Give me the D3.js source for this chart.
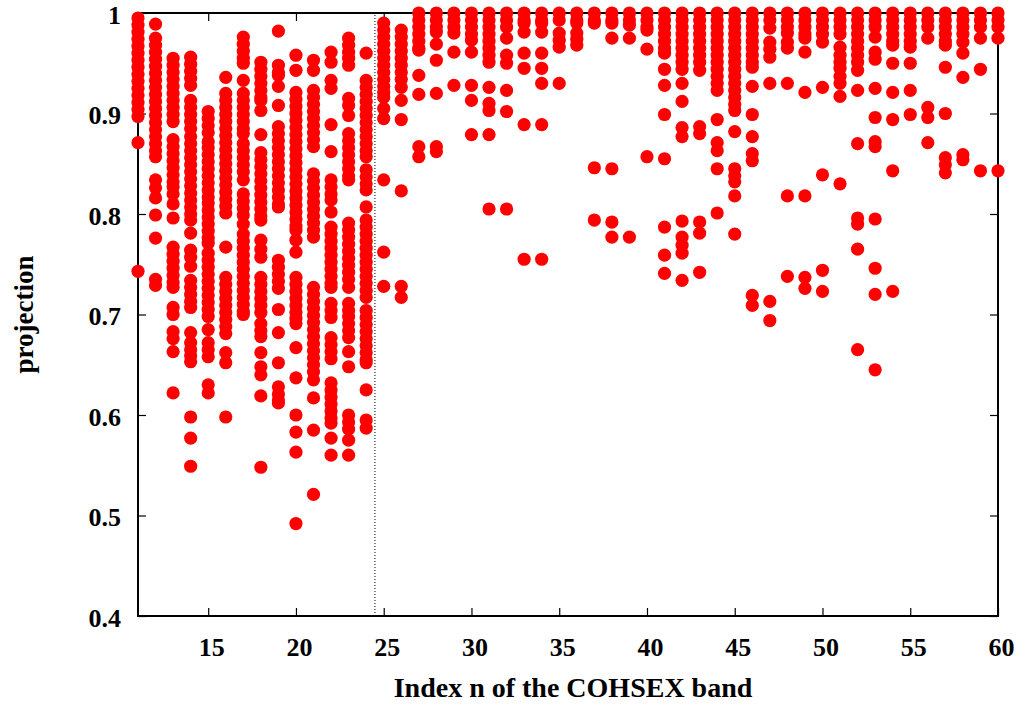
<!DOCTYPE html>
<html>
<head>
<meta charset="utf-8">
<script src="https://cdn.jsdelivr.net/npm/d3@7"></script>
<style>
  html, body { margin: 0; padding: 0; background: #fff; }
  svg { display: block; }
  text { font-family: "Liberation Serif", "Times New Roman", serif; font-weight: bold; fill: #000; }
</style>
</head>
<body>
<svg id="chart" width="1025" height="706"></svg>
<script>
// ---- data ----
const bands = [11,12,13,14,15,16,17,18,19,20,21,22,23,24,25,26,27,28,29,30,31,32,33,34,35,36,37,38,39,40,41,42,43,44,45,46,47,48,49,50,51,52,53,54,55,56,57,58,59,60];

const projections = [
  /*11*/ [0.995,0.988,0.981,0.974,0.967,0.960,0.953,0.946,0.939,0.932,0.925,0.918,0.911,0.904,0.897,0.871,0.743],
  /*12*/ [0.989,0.975,0.968,0.961,0.954,0.947,0.940,0.933,0.926,0.919,0.912,0.905,0.898,0.891,0.884,0.877,0.870,0.863,0.857,0.834,0.826,0.816,0.799,0.776,0.735,0.729],
  /*13*/ [0.955,0.948,0.941,0.934,0.927,0.920,0.913,0.906,0.899,0.892,0.874,0.867,0.860,0.853,0.846,0.839,0.832,0.827,0.820,0.810,0.796,0.767,0.760,0.753,0.746,0.739,0.732,0.727,0.707,0.700,0.683,0.676,0.663,0.622],
  /*14*/ [0.956,0.949,0.942,0.935,0.928,0.913,0.906,0.899,0.892,0.885,0.877,0.870,0.863,0.856,0.849,0.842,0.835,0.828,0.821,0.814,0.807,0.800,0.794,0.781,0.764,0.757,0.748,0.734,0.727,0.720,0.713,0.707,0.682,0.672,0.665,0.659,0.653,0.598,0.577,0.549],
  /*15*/ [0.902,0.895,0.888,0.881,0.872,0.866,0.859,0.852,0.845,0.838,0.831,0.824,0.817,0.811,0.804,0.797,0.790,0.783,0.776,0.771,0.761,0.754,0.747,0.740,0.733,0.726,0.719,0.712,0.705,0.698,0.685,0.672,0.665,0.658,0.630,0.622],
  /*16*/ [0.936,0.920,0.913,0.906,0.899,0.892,0.885,0.878,0.871,0.864,0.857,0.850,0.843,0.836,0.829,0.822,0.815,0.808,0.801,0.767,0.737,0.730,0.723,0.716,0.709,0.702,0.695,0.688,0.681,0.662,0.652,0.598],
  /*17*/ [0.976,0.969,0.962,0.955,0.950,0.933,0.920,0.913,0.906,0.899,0.892,0.885,0.880,0.870,0.863,0.856,0.849,0.842,0.834,0.820,0.813,0.806,0.799,0.790,0.780,0.773,0.766,0.759,0.752,0.745,0.738,0.731,0.724,0.717,0.710,0.703,0.700],
  /*18*/ [0.951,0.944,0.937,0.930,0.923,0.916,0.913,0.903,0.879,0.861,0.854,0.847,0.840,0.833,0.826,0.819,0.812,0.805,0.798,0.794,0.774,0.765,0.757,0.737,0.730,0.723,0.716,0.709,0.702,0.691,0.684,0.678,0.662,0.648,0.640,0.619,0.548],
  /*19*/ [0.982,0.948,0.941,0.938,0.927,0.908,0.887,0.880,0.873,0.866,0.859,0.852,0.845,0.838,0.831,0.824,0.817,0.810,0.807,0.754,0.747,0.740,0.733,0.726,0.705,0.682,0.652,0.628,0.621,0.615,0.612],
  /*20*/ [0.958,0.943,0.921,0.914,0.907,0.900,0.893,0.886,0.879,0.872,0.865,0.858,0.851,0.844,0.837,0.830,0.823,0.816,0.809,0.802,0.795,0.788,0.784,0.774,0.762,0.737,0.730,0.723,0.716,0.709,0.702,0.696,0.691,0.667,0.637,0.600,0.583,0.563,0.492],
  /*21*/ [0.953,0.943,0.923,0.916,0.909,0.902,0.895,0.888,0.881,0.874,0.867,0.840,0.833,0.826,0.819,0.812,0.805,0.798,0.791,0.784,0.777,0.727,0.720,0.713,0.706,0.699,0.692,0.685,0.678,0.671,0.664,0.657,0.650,0.643,0.635,0.617,0.585,0.521],
  /*22*/ [0.961,0.951,0.933,0.925,0.889,0.862,0.834,0.827,0.820,0.814,0.802,0.787,0.780,0.773,0.766,0.759,0.752,0.745,0.738,0.731,0.727,0.711,0.704,0.697,0.677,0.670,0.663,0.656,0.632,0.625,0.618,0.611,0.604,0.597,0.592,0.577,0.560],
  /*23*/ [0.975,0.968,0.961,0.955,0.948,0.915,0.908,0.898,0.880,0.873,0.866,0.859,0.852,0.845,0.838,0.834,0.791,0.784,0.777,0.770,0.763,0.756,0.749,0.742,0.735,0.727,0.711,0.704,0.698,0.691,0.684,0.677,0.663,0.648,0.600,0.593,0.586,0.575,0.560],
  /*24*/ [0.960,0.933,0.926,0.919,0.912,0.905,0.898,0.891,0.884,0.877,0.870,0.863,0.857,0.844,0.837,0.830,0.824,0.807,0.794,0.787,0.780,0.773,0.766,0.759,0.752,0.745,0.738,0.731,0.724,0.717,0.704,0.697,0.690,0.683,0.676,0.669,0.662,0.655,0.652,0.625,0.595,0.587],
  /*25*/ [0.990,0.983,0.976,0.969,0.962,0.955,0.948,0.941,0.934,0.927,0.921,0.916,0.905,0.895,0.834,0.762,0.728],
  /*26*/ [0.983,0.976,0.969,0.962,0.955,0.948,0.941,0.934,0.926,0.913,0.894,0.823,0.728,0.717],
  /*27*/ [1.000,0.993,0.986,0.979,0.972,0.965,0.963,0.938,0.919,0.867,0.857],
  /*28*/ [1.000,0.993,0.986,0.981,0.969,0.953,0.920,0.867,0.862],
  /*29*/ [1.000,0.993,0.986,0.980,0.961,0.928],
  /*30*/ [1.000,0.993,0.986,0.979,0.973,0.961,0.928,0.913,0.879],
  /*31*/ [1.000,0.993,0.986,0.979,0.972,0.965,0.958,0.951,0.926,0.910,0.903,0.879,0.805],
  /*32*/ [1.000,0.993,0.986,0.975,0.958,0.950,0.923,0.902,0.805],
  /*33*/ [1.000,0.993,0.990,0.981,0.960,0.945,0.889,0.755],
  /*34*/ [1.000,0.993,0.990,0.981,0.960,0.945,0.930,0.889,0.755],
  /*35*/ [1.000,0.993,0.980,0.973,0.966,0.930],
  /*36*/ [1.000,0.993,0.990,0.980,0.974,0.968],
  /*37*/ [1.000,0.993,0.990,0.846,0.794],
  /*38*/ [1.000,0.993,0.990,0.975,0.845,0.792,0.777],
  /*39*/ [1.000,0.993,0.988,0.975,0.777],
  /*40*/ [1.000,0.993,0.986,0.983,0.964,0.857],
  /*41*/ [1.000,0.993,0.986,0.979,0.972,0.965,0.960,0.944,0.928,0.899,0.855,0.787,0.759,0.741],
  /*42*/ [1.000,0.993,0.986,0.979,0.972,0.965,0.958,0.951,0.944,0.930,0.912,0.886,0.877,0.793,0.777,0.769,0.761,0.734],
  /*43*/ [1.000,0.993,0.986,0.979,0.972,0.965,0.958,0.951,0.943,0.887,0.880,0.792,0.781,0.742],
  /*44*/ [1.000,0.993,0.986,0.979,0.972,0.965,0.958,0.951,0.944,0.937,0.930,0.923,0.894,0.871,0.863,0.845,0.801],
  /*45*/ [1.000,0.993,0.986,0.979,0.972,0.965,0.958,0.951,0.944,0.937,0.930,0.923,0.916,0.909,0.903,0.882,0.845,0.838,0.832,0.818,0.780],
  /*46*/ [1.000,0.993,0.986,0.979,0.972,0.965,0.958,0.951,0.946,0.927,0.899,0.877,0.860,0.853,0.719,0.709],
  /*47*/ [1.000,0.993,0.985,0.971,0.964,0.956,0.930,0.713,0.694],
  /*48*/ [1.000,0.993,0.986,0.980,0.971,0.965,0.930,0.818,0.738],
  /*49*/ [1.000,0.993,0.986,0.979,0.975,0.961,0.921,0.818,0.737,0.726],
  /*50*/ [1.000,0.993,0.986,0.979,0.971,0.926,0.839,0.744,0.723],
  /*51*/ [1.000,0.993,0.986,0.979,0.966,0.958,0.951,0.945,0.937,0.930,0.917,0.830],
  /*52*/ [1.000,0.993,0.986,0.979,0.972,0.965,0.958,0.951,0.943,0.923,0.870,0.796,0.790,0.765,0.665],
  /*53*/ [1.000,0.993,0.986,0.976,0.961,0.954,0.925,0.896,0.872,0.867,0.795,0.746,0.720,0.645],
  /*54*/ [1.000,0.993,0.986,0.979,0.972,0.968,0.950,0.921,0.894,0.843,0.723],
  /*55*/ [1.000,0.993,0.986,0.979,0.972,0.966,0.950,0.923,0.899],
  /*56*/ [1.000,0.993,0.986,0.975,0.906,0.896,0.871],
  /*57*/ [1.000,0.993,0.986,0.979,0.972,0.968,0.946,0.900,0.856,0.849,0.841],
  /*58*/ [1.000,0.993,0.986,0.979,0.971,0.960,0.936,0.859,0.854],
  /*59*/ [1.000,0.993,0.986,0.975,0.944,0.843],
  /*60*/ [1.000,0.993,0.986,0.975,0.843]
];

const xTicks = [15,20,25,30,35,40,45,50,55,60];
const yTicks = [0.4,0.5,0.6,0.7,0.8,0.9,1.0];
const yTickLabels = ["0.4","0.5","0.6","0.7","0.8","0.9","1"];
const separatorBand = 24.5;
const xTitle = "Index n of the COHSEX band";
const yTitle = "projection";

// ---- layout ----
const L = 138, R = 998, T = 13, B = 616;
const svg = d3.select("#chart");
const x = d3.scaleLinear().domain([11, 60]).range([L, R]);
const y = d3.scaleLinear().domain([0.4, 1.0]).range([B, T]);

const points = [];
bands.forEach((b, i) => projections[i].forEach(v => points.push({b, v})));

// separator (dotted)
svg.append("line")
  .attr("x1", x(separatorBand)).attr("x2", x(separatorBand))
  .attr("y1", y(0.4)).attr("y2", y(1.0))
  .attr("stroke", "#000").attr("stroke-width", 1)
  .attr("stroke-dasharray", "1,2");

// axes
const tickLen = 8;
const fmtY = (d) => yTickLabels[yTicks.findIndex(t => Math.abs(t - d) < 1e-9)];
const gBottom = svg.append("g").attr("transform", `translate(0,${B})`)
  .call(d3.axisBottom(x).tickValues(xTicks).tickSizeInner(-tickLen).tickSizeOuter(0).tickPadding(40));
const gTop = svg.append("g").attr("transform", `translate(0,${T})`)
  .call(d3.axisTop(x).tickValues(xTicks).tickSizeInner(-tickLen).tickSizeOuter(0).tickFormat(""));
const gLeft = svg.append("g").attr("transform", `translate(${L},0)`)
  .call(d3.axisLeft(y).tickValues(yTicks).tickSizeInner(-tickLen).tickSizeOuter(0).tickPadding(17).tickFormat(fmtY));
const gRight = svg.append("g").attr("transform", `translate(${R},0)`)
  .call(d3.axisRight(y).tickValues(yTicks).tickSizeInner(-tickLen).tickSizeOuter(0).tickFormat(""));

[gBottom, gTop, gLeft, gRight].forEach(g => {
  g.select(".domain").remove();
  g.selectAll(".tick line").attr("stroke", "#000").attr("stroke-width", 1.2);
  g.selectAll("text").style("font-size", "26px").style("font-family", '"Liberation Serif", serif').style("font-weight", "bold").attr("fill", "#000");
});
gBottom.selectAll("text").attr("dy", "0").attr("dx", "3");
gLeft.selectAll("text").attr("dy", "0.4em");

// frame
svg.append("rect")
  .attr("x", L).attr("y", T).attr("width", R - L).attr("height", B - T)
  .attr("fill", "none").attr("stroke", "#000").attr("stroke-width", 2);

// points
svg.append("g").selectAll("circle").data(points).join("circle")
  .attr("cx", d => x(d.b)).attr("cy", d => y(d.v)).attr("r", 6.6)
  .attr("fill", "#ff0000");

// titles
svg.append("text").attr("x", 573).attr("y", 697)
  .attr("text-anchor", "middle").style("font-size", "28px").text(xTitle);
svg.append("text").attr("transform", `translate(33,${(T + B) / 2}) rotate(-90)`)
  .attr("text-anchor", "middle").style("font-size", "27px").text(yTitle);
</script>
</body>
</html>
